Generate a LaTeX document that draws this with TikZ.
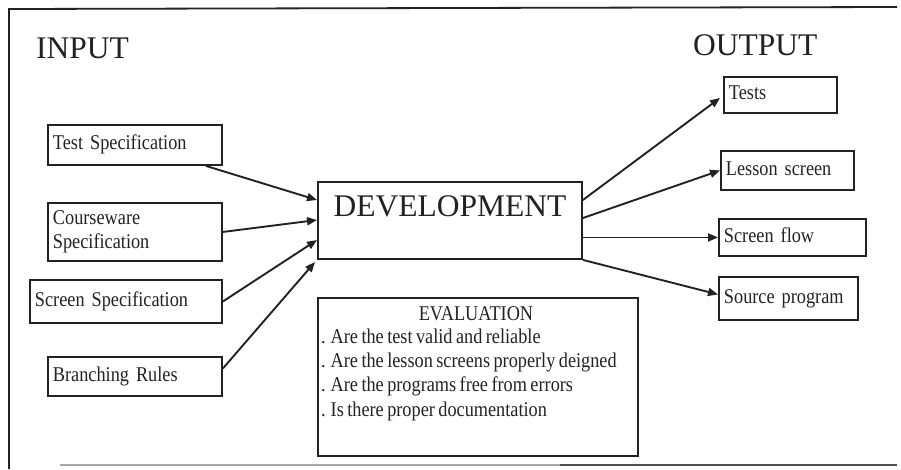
\documentclass[tikz,border=0pt]{standalone}
\usepackage{fontspec}
\setmainfont{Liberation Serif}
\newfontfamily\narrowserif[FakeStretch=0.87, WordSpace=0.75]{Liberation Serif}
\usetikzlibrary{arrows.meta}

\definecolor{ink}{HTML}{222222}

\tikzset{
  box/.style={draw=ink, line width=1.9pt, anchor=north west, inner xsep=5pt,
    inner ysep=0pt, align=left, text=ink, font=\narrowserif\fontsize{21}{23.5}\selectfont,
    text height=14.5pt, text depth=5pt},
  title/.style={font=\fontsize{31.5}{36}\selectfont, text=ink, inner sep=0pt},
  item/.style={font=\narrowserif\fontsize{21}{23}\selectfont, text=ink, inner sep=0pt, anchor=base west},
  flow/.style={draw=ink, line width=1.9pt, -{Triangle[length=10pt,width=8pt]}},
}

\begin{document}
\begin{tikzpicture}[x=1pt,y=-1pt]
\useasboundingbox (0,0) rectangle (901,469);

% outer frame (open on the right)
\draw[ink, line width=1.8pt] (9,469) -- (9,9) -- (897,7);
\draw[ink!40, line width=1.4pt] (60,465) -- (560,465);
\draw[ink!80, line width=1.6pt] (560,465) -- (897,465);

% headings
\node[title, anchor=base west] (inhead) at (36,58) {INPUT};
\node[title, anchor=base west] (outhead) at (693,55) {OUTPUT};

% input boxes
\node[box, minimum width=174pt, minimum height=40pt, text width=164pt] (ts) at (47,124) {Test Specification};
\node[box, minimum width=174pt, minimum height=58pt, text width=164pt, text height=, text depth=] (cs) at (47,202) {Courseware\\Specification};
\node[box, minimum width=192pt, minimum height=43pt, text width=182pt] (ss) at (29,279) {Screen Specification};
\node[box, minimum width=174pt, minimum height=39pt, text width=164pt] (br) at (47,356) {Branching Rules};

% central process
\node[box, align=center, minimum width=264pt, text width=254pt, font=\fontsize{31.5}{36}\selectfont,
      text height=35pt, text depth=42pt] (dev) at (317,181) {DEVELOPMENT};

% evaluation checklist
\node[box, minimum width=320pt, minimum height=158pt] (eval) at (317,297) {};
\node[item, anchor=base] (evhead) at (476,320) {EVALUATION};
\node[item] (ev1) at (321,343) {. Are the test valid and reliable};
\node[item] (ev2) at (321,367) {. Are the lesson screens properly deigned};
\node[item] (ev3) at (321,391) {. Are the programs free from errors};
\node[item] (ev4) at (321,416) {. Is there proper documentation};

% output boxes
\node[box, minimum width=113pt, minimum height=36pt, text width=103pt] (tests) at (723,76) {Tests};
\node[box, minimum width=133pt, minimum height=39pt, text width=123pt] (lesson) at (720,150) {Lesson screen};
\node[box, minimum width=147pt, minimum height=37pt, text width=137pt] (sflow) at (718,218) {Screen flow};
\node[box, minimum width=139pt, minimum height=43pt, text width=129pt] (src) at (718,276) {Source program};

% inputs into development
\draw[flow] ([xshift=-17pt]ts.south east) -- ([yshift=-19pt]dev.north west);
\draw[flow] (cs.east) -- ([yshift=-39pt]dev.north west);
\draw[flow] (ss.east) -- ([yshift=-59pt]dev.north west);
\draw[flow] ([yshift=8pt]br.east) -- ([xshift=-2pt,yshift=-81pt]dev.north west);

% development outputs
\draw[flow] ([yshift=-19pt]dev.north east) -- ([xshift=-3pt,yshift=-3pt]tests.west);
\draw[flow] ([yshift=-37pt]dev.north east) -- (lesson.west);
\draw[flow] (dev.north east |- sflow.west) -- (sflow.west);
\draw[flow] (dev.south east) -- ([yshift=4pt]src.west);
\end{tikzpicture}
\end{document}
